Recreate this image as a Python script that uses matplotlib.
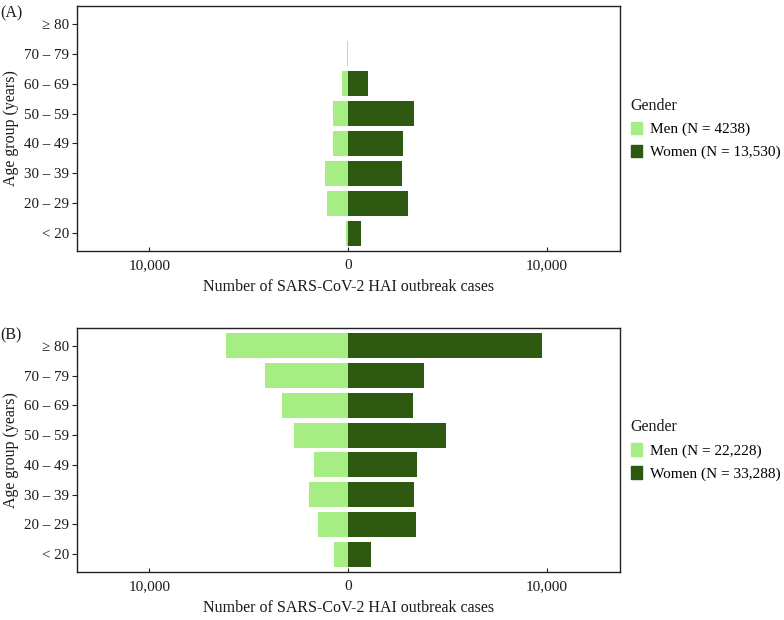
import matplotlib
matplotlib.use('Agg')
import matplotlib.pyplot as plt
import matplotlib.patches as patches
from matplotlib.ticker import FuncFormatter
import numpy as np

plt.rcParams['font.family'] = ['Liberation Serif', 'DejaVu Serif']
plt.rcParams['font.size'] = 11.5

# 数据
age_groups = ['< 20', '20 – 29', '30 – 39', '40 – 49', '50 – 59', '60 – 69', '70 – 79', '≥ 80']

men_a = [118, 1070, 1170, 780, 780, 300, 70, 0]
women_a = [630, 3040, 2720, 2790, 3320, 1020, 10, 0]
men_b = [730, 1530, 1940, 1700, 2740, 3330, 4200, 6170]
women_b = [1140, 3450, 3340, 3500, 4960, 3290, 3850, 9750]

legend_a = ['Men (N = 4238)', 'Women (N = 13,530)']
legend_b = ['Men (N = 22,228)', 'Women (N = 33,288)']

colors = {'men': '#a6ee84', 'women': '#2d5910', 'axis': '#222222'}

fig = plt.figure(figsize=(7.84, 6.2), dpi=100)
W, H = 784, 620


def draw_panel(rect, men, women, labels, tag):
    left, top, right, bottom = rect
    ax = fig.add_axes([left / W, 1 - bottom / H, (right - left) / W, (bottom - top) / H])
    y = np.arange(len(age_groups))
    ax.barh(y, -np.array(men), height=0.84, color=colors['men'], linewidth=0)
    ax.barh(y, women, height=0.84, color=colors['women'], linewidth=0)

    ax.set_xlim(-13650, 13700)
    ax.set_ylim(-0.6, 7.6)
    ax.set_xticks([-10000, 0, 10000])
    ax.xaxis.set_major_formatter(FuncFormatter(lambda v, p: f'{abs(int(v)):,}'))
    ax.set_yticks(y)
    ax.set_yticklabels(age_groups)
    ax.tick_params(axis='x', direction='in', length=3, width=0.8, colors=colors['axis'],
                   labelcolor='#1a1a1a', pad=6, labelsize=11)
    ax.tick_params(axis='y', direction='out', length=3.5, width=0.8, colors=colors['axis'],
                   labelcolor='#1a1a1a', pad=2, labelsize=10.8)
    for s in ax.spines.values():
        s.set_linewidth(1.0)
        s.set_color(colors['axis'])

    ax.set_xlabel('Number of SARS-CoV-2 HAI outbreak cases', labelpad=5, color='#1a1a1a')
    ax.set_ylabel('Age group (years)', labelpad=4, color='#1a1a1a')

    handles = [patches.Patch(color=colors['men'], label=labels[0]),
               patches.Patch(color=colors['women'], label=labels[1])]
    leg = ax.legend(handles=handles, loc='center left', bbox_to_anchor=(1.02, 0.5),
                    frameon=False, title='Gender', alignment='left', fontsize=11,
                    title_fontsize=11.5,
                    handlelength=0.75, handleheight=0.85, handletextpad=0.5,
                    labelspacing=0.55, borderaxespad=0, borderpad=0)
    leg.get_title().set_color('#1a1a1a')

    fig.text(0.0, 1 - (top - 1) / H, tag, ha='left', va='top', color='#1a1a1a')
    return ax


draw_panel((77, 6, 620, 251), men_a, women_a, legend_a, '(A)')
draw_panel((77, 328, 620, 572), men_b, women_b, legend_b, '(B)')

plt.savefig('out.png', dpi=100)
